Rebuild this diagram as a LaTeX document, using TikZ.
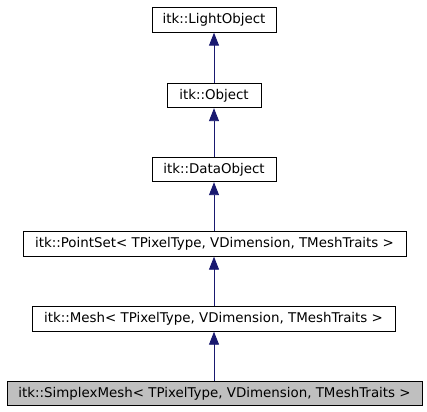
\documentclass[tikz,border=0pt]{standalone}
\usepackage{fontspec}
\setmainfont{DejaVu Sans}
\usetikzlibrary{arrows.meta}
\definecolor{edgeblue}{RGB}{25,25,112}
\definecolor{curgray}{RGB}{191,191,191}
\tikzset{
  cls/.style={draw=black, line width=0.9pt, fill=white, inner sep=0pt, minimum height=24.5pt, font=\fontsize{13.4pt}{15pt}\selectfont, text=black},
  inh/.style={draw=edgeblue, line width=0.9pt, -{Triangle[length=13pt,width=10pt]}, fill=edgeblue}
}
\begin{document}
\begin{tikzpicture}[x=1pt,y=-1pt]
\useasboundingbox (0,0) rectangle (427,411);
\node[cls, minimum width=124pt] (light) at (214,20) {itk::LightObject};
\node[cls, minimum width=94pt] (obj) at (214,95.5) {itk::Object};
\node[cls, minimum width=124pt] (data) at (214,169.5) {itk::DataObject};
\node[cls, minimum width=383pt] (pset) at (214.5,244) {itk::PointSet< TPixelType, VDimension, TMeshTraits >};
\node[cls, minimum width=363pt] (mesh) at (213.5,319) {itk::Mesh< TPixelType, VDimension, TMeshTraits >};
\node[cls, fill=curgray, minimum width=415pt] (smesh) at (214.5,393.5) {itk::SimplexMesh< TPixelType, VDimension, TMeshTraits >};
\draw[inh] (obj.north -| light.south) -- (light.south);
\draw[inh] (data.north) -- (data.north |- obj.south);
\draw[inh] (data.north |- pset.north) -- (data.south);
\draw[inh] (data.south |- mesh.north) -- (data.south |- pset.south);
\draw[inh] (data.south |- smesh.north) -- (data.south |- mesh.south);
\end{tikzpicture}
\end{document}
